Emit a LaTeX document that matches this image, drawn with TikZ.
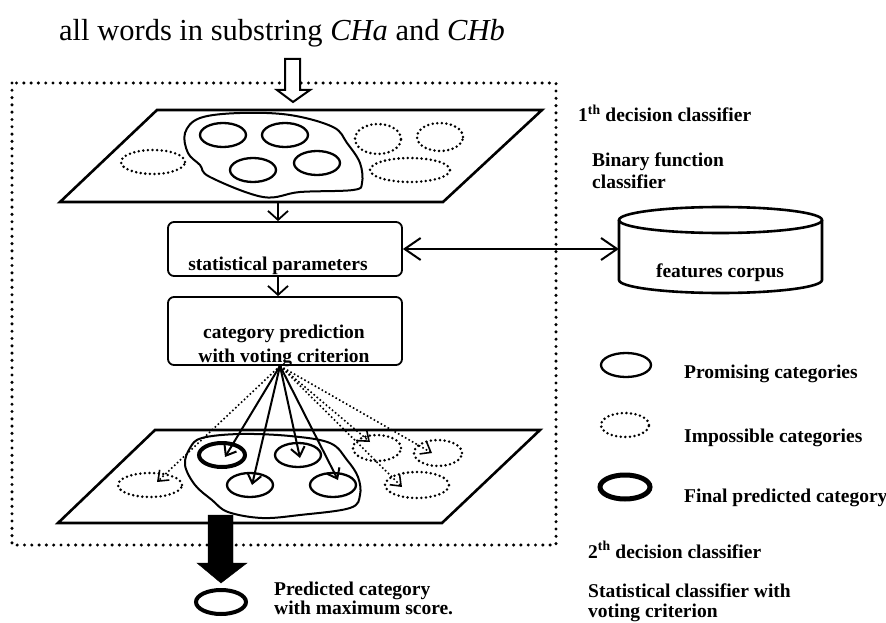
\documentclass[tikz,border=0pt]{standalone}
\usepackage{fontspec}
\setmainfont{Liberation Serif}
\usetikzlibrary{arrows.meta,shapes.geometric}

\begin{document}
\begin{tikzpicture}[x=1pt,y=-1pt,
  lab/.style={font=\fontsize{19.5}{21}\selectfont\bfseries, inner sep=0pt},
  frame/.style={line width=3.4pt, dash pattern=on 0pt off 7.3pt, line cap=round},
  plane/.style={line width=2.6pt, line join=miter},
  blob/.style={line width=2pt},
  cat/.style={ellipse, draw, line width=2.3pt, inner sep=0pt, minimum width=46pt, minimum height=24pt},
  nocat/.style={ellipse, draw, line width=2.8pt, dash pattern=on 0pt off 4.6pt, line cap=round, inner sep=0pt, minimum height=24pt},
  best/.style={ellipse, draw, line width=4pt, inner sep=0pt, minimum width=46pt, minimum height=24pt},
  stepbox/.style={draw, rounded corners=6pt, line width=1.8pt, minimum width=234pt, inner sep=0pt},
  flow/.style={line width=1.8pt, -{Straight Barb[length=9pt,width=20pt]}},
  vote/.style={line width=2pt, -{Straight Barb[length=9pt,width=14pt]}},
  guess/.style={line width=1.6pt, dash pattern=on 1.6pt off 2.4pt, -{Straight Barb[length=9pt,width=14pt,line width=1.6pt]}},
  link/.style={line width=2pt, {Straight Barb[length=16pt,width=22pt]}-{Straight Barb[length=16pt,width=22pt]}},
]
\useasboundingbox (0,0) rectangle (886,623);

% title
\node[anchor=base west, inner sep=0pt, font=\fontsize{30.5}{32}\selectfont] (title) at (59,41)
  {all words in substring \textit{CHa} and \textit{CHb}};

% dotted frame of the first decision stage
\draw[frame] (12,83) rectangle (556,545);

% upper plane with categories
\draw[plane] (157,110) -- (542,110) -- (443,202) -- (60,202) -- cycle;
\draw[blob] plot[smooth cycle, tension=0.6] coordinates {(185,133) (200,118) (240,113) (290,115) (333,127) (347,143) (360,163) (362,183) (353,190) (300,192) (263,197) (210,177) (200,165) (188,153)};
\node[cat] (a1) at (223,135) {};
\node[cat] (a2) at (285,135) {};
\node[cat] (a3) at (253,170) {};
\node[cat] (a4) at (317,163) {};
\node[nocat, minimum width=64pt] (u1) at (153,162) {};
\node[nocat, minimum width=46pt, minimum height=30pt] (u2) at (378,139) {};
\node[nocat, minimum width=46pt, minimum height=28pt] (u3) at (440,137) {};
\node[nocat, minimum width=80pt] (u4) at (410,170) {};

% processing boxes
\node[stepbox, minimum height=54pt] (box1) at (285,249) {};
\node[stepbox, minimum height=68pt] (box2) at (285,331) {};
\node[lab, anchor=base] (box1txt) at (278,270) {statistical parameters};
\node[lab, anchor=base] (box2txt) at (284,338)
  {\fontsize{19.5}{24}\selectfont\begin{tabular}[t]{@{}c@{}}category prediction\\with voting criterion\end{tabular}};

\coordinate (p1) at (278,202);
\draw[flow] (p1) -- (p1 |- box1.north);
\draw[flow] ([xshift=-7pt]box1.south) -- ([xshift=-7pt]box2.north);

% feature corpus cylinder
\node[minimum width=203pt, minimum height=86pt, inner sep=0pt] (corpus) at (720.5,250) {};
\draw[line width=2.6pt] (619,220) -- (619,280) arc[start angle=180, end angle=360, x radius=101.5pt, y radius=13pt] -- (822,220);
\draw[line width=2.6pt] (720.5,220) ellipse [x radius=101.5pt, y radius=13pt];
\node[lab, anchor=base] (corpustxt) at (720,277) {features corpus};
\draw[link] (box1.east) -- (box1.east -| corpus.west);

% lower plane with voted categories
\draw[plane] (155,430) -- (540,430) -- (442,523) -- (58,523) -- cycle;
\draw[blob] plot[smooth cycle, tension=0.6] coordinates {(185,465) (190,448) (202,438) (240,434) (290,436) (330,443) (347,460) (358,477) (360,495) (350,508) (300,515) (262,518) (228,512) (212,500) (195,485)};
\node[best] (b1) at (222,455) {};
\node[cat] (b2) at (298,455) {};
\node[cat] (b3) at (250,485) {};
\node[cat] (b4) at (333,485) {};
\node[nocat, minimum width=64pt] (v1) at (150,485) {};
\node[nocat, minimum width=48pt, minimum height=26pt] (v2) at (377,448) {};
\node[nocat, minimum width=48pt, minimum height=26pt] (v3) at (438,453) {};
\node[nocat, minimum width=64pt, minimum height=26pt] (v4) at (417,485) {};

\coordinate (src) at ([xshift=-5pt]box2.south);
\draw[vote] (src) -- ([shift={(3,2)}]b1.center);
\draw[vote] (src) -- ([shift={(2,0)}]b3.center);
\draw[vote] (src) -- ([shift={(2,3)}]b2.center);
\draw[vote] (src) -- ([shift={(5,-5)}]b4.center);
\draw[guess] (src) -- ([shift={(7,-3)}]v1.center);
\draw[guess] (src) -- ([shift={(-7,-6)}]v2.center);
\draw[guess] (src) -- ([shift={(-6,0)}]v3.center);
\draw[guess] (src) -- ([shift={(-15,2)}]v4.center);

% output arrow and predicted category
\draw[fill=black] (208,515) -- (233,515) -- (233,563) -- (247,563) -- (221,583) -- (197,563) -- (208,563) -- cycle;
\node[best, minimum width=50pt] (out) at (221,602) {};
\node[lab, anchor=base west] (outtxt) at (274,595)
  {\fontsize{19.5}{18.5}\selectfont\begin{tabular}[t]{@{}l@{}}Predicted category\\with maximum score.\end{tabular}};

% input arrow
\draw[line width=2pt, fill=white, line join=miter] (285,59) -- (300,59) -- (300,90) -- (310,90) -- (293,102) -- (277,90) -- (285,90) -- cycle;

% right-hand labels
\node[lab, anchor=base west] (dec1) at (578,122) {1\textsuperscript{th} decision classifier};
\node[lab, anchor=base west] (bin) at (592,167) {\begin{tabular}[t]{@{}l@{}}Binary function\\classifier\end{tabular}};

% legend
\node[cat, minimum width=50pt] (k1) at (626,365) {};
\node[nocat, minimum width=48pt] (k2) at (625,425) {};
\node[best, line width=5pt, minimum width=50pt] (k3) at (625,487) {};
\node[lab, anchor=base west] (k1txt) at (684,378) {Promising categories};
\node[lab, anchor=base west] (k2txt) at (684,442) {Impossible categories};
\node[lab, anchor=base west] (k3txt) at (684,502) {Final predicted category};

\node[lab, anchor=base west] (dec2) at (588,558) {2\textsuperscript{th} decision classifier};
\node[lab, anchor=base west] (stat) at (588,597)
  {\fontsize{19.5}{20}\selectfont\begin{tabular}[t]{@{}l@{}}Statistical classifier with\\voting criterion\end{tabular}};
\end{tikzpicture}
\end{document}
